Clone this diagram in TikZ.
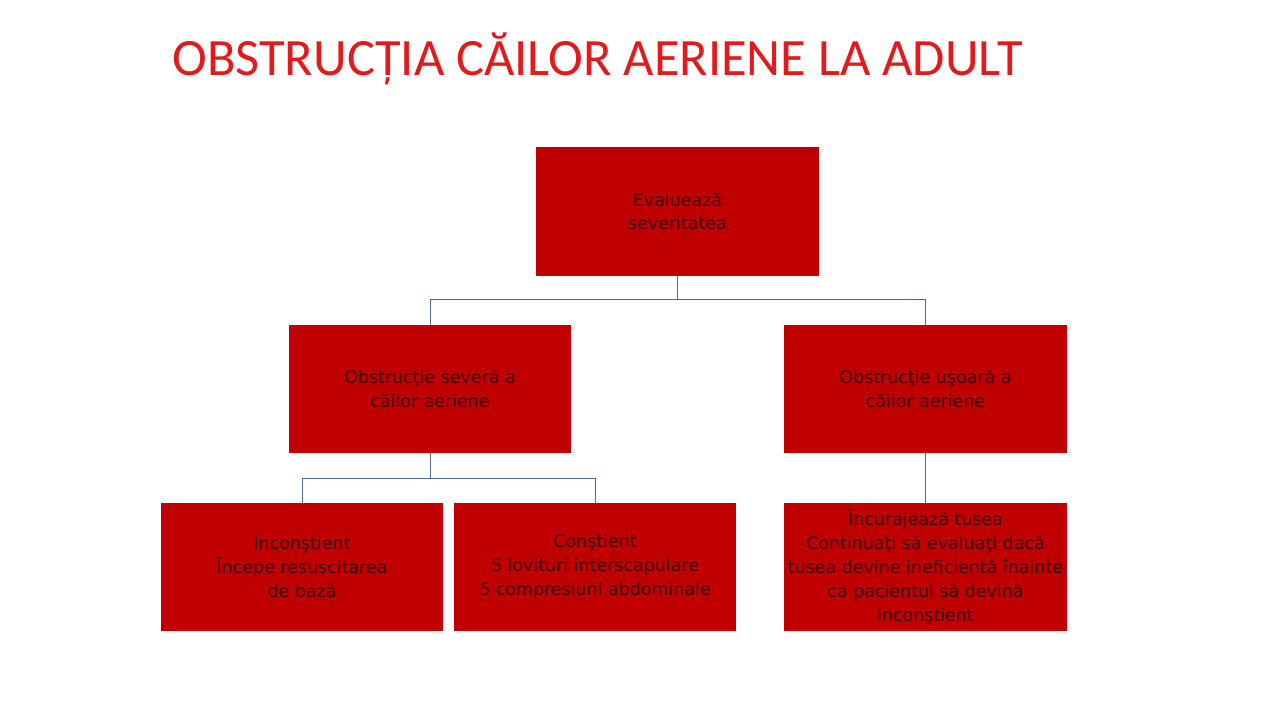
\documentclass[tikz,border=0pt]{standalone}
\usepackage{fontspec}
\setmainfont{DejaVu Sans}
\newfontfamily\titlefont{Carlito}
\definecolor{boxred}{RGB}{192,0,0}
\definecolor{boxtext}{RGB}{58,0,0}
\definecolor{titlered}{RGB}{226,26,26}
\definecolor{linkblue}{RGB}{79,108,140}

\begin{document}
\begin{tikzpicture}
  [x=0.025cm,y=-0.025cm,
   block/.style={fill=boxred, text=boxtext, inner sep=0pt,
     minimum width=7.05cm, minimum height=3.2cm, align=center,
     font=\fontsize{12.4}{17}\selectfont},
   link/.style={draw=linkblue, line width=0.7pt}]
  \useasboundingbox (0,0) rectangle (1280,720);

  \node[text=titlered, font=\titlefont\fontsize{37.3}{45}\selectfont] (title) at (597.5,59) {OBSTRUCȚIA CĂILOR AERIENE LA ADULT};

  \node[block] (eval) at (677.5,211.5) {Evaluează\\severitatea};
  \node[block] (severe) at (430,389) {Obstrucţie severă a\\căilor aeriene};
  \node[block] (mild) at (925.5,389) {Obstrucţie uşoară a\\căilor aeriene};
  \node[block] (uncons) at (302,567) {Inconştient\\Începe resuscitarea\\de bază};
  \node[block] (cons) at (595,567) {Conştient\\5 lovituri interscapulare\\5 compresiuni abdominale};
  \node[block] (cough) at (925.5,567) {Încurajează tusea\\Continuaţi să evaluaţi dacă\\tusea devine ineficientă înainte\\ca pacientul să devină\\inconştient};

  \draw[link] (eval.south) -- ++(0,24) coordinate (forktop) -| (severe.north);
  \draw[link] (forktop) -| (mild.north);
  \draw[link] (severe.south) -- ++(0,25) coordinate (forkleft) -| (uncons.north);
  \draw[link] (forkleft) -| (cons.north);
  \draw[link] (mild.south) -- (cough.north);
\end{tikzpicture}
\end{document}
